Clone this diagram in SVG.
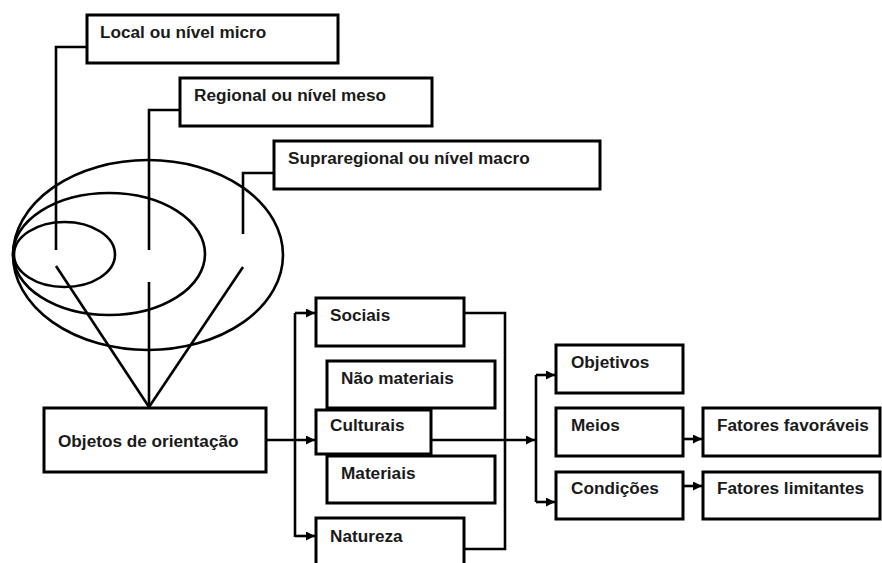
<svg xmlns="http://www.w3.org/2000/svg" width="882" height="563" viewBox="0 0 882 563">
<defs>
<marker id="arr" viewBox="0 0 10 10" refX="10" refY="5" markerWidth="9" markerHeight="9" markerUnits="userSpaceOnUse" orient="auto">
<path d="M0,0 L10,5 L0,10 Z" fill="#000"/>
</marker>
<style>
.box{fill:#fff;stroke:#000;stroke-width:3}
.ln{fill:none;stroke:#000;stroke-width:2.6}
.el{fill:none;stroke:#000;stroke-width:2.6}
.t{font-family:"Liberation Sans",Arial,sans-serif;font-weight:bold;font-size:17.2px;fill:#1a1a1a}
</style>
</defs>
<rect width="882" height="563" fill="#fff"/>
<g id="ellipses">
<ellipse class="el" cx="148" cy="255" rx="135" ry="95"/>
<ellipse class="el" cx="109" cy="254" rx="96" ry="61"/>
<ellipse class="el" cx="64.5" cy="254.5" rx="50.5" ry="32.5"/>
</g>
<g id="connectors">
<polyline class="ln" points="87,47 56,47 56,250"/>
<polyline class="ln" points="180,110 149,110 149,250"/>
<polyline class="ln" points="274,173 243,173 243,234"/>
<line class="ln" x1="56" y1="266" x2="149" y2="407"/>
<line class="ln" x1="149" y1="282" x2="149" y2="407"/>
<line class="ln" x1="243" y1="267" x2="149" y2="407"/>
<line class="ln" x1="266" y1="440" x2="315" y2="440" marker-end="url(#arr)"/>
<line class="ln" x1="295" y1="313" x2="295" y2="537"/>
<line class="ln" x1="295" y1="313" x2="315" y2="313" marker-end="url(#arr)"/>
<line class="ln" x1="295" y1="536" x2="315" y2="536" marker-end="url(#arr)"/>
<polyline class="ln" points="464,313 505,313 505,549 464,549"/>
<line class="ln" x1="431" y1="440" x2="535" y2="440" marker-end="url(#arr)"/>
<line class="ln" x1="536" y1="375" x2="536" y2="502"/>
<line class="ln" x1="536" y1="375" x2="555" y2="375" marker-end="url(#arr)"/>
<line class="ln" x1="536" y1="502" x2="555" y2="502" marker-end="url(#arr)"/>
<line class="ln" x1="683" y1="439" x2="702" y2="439" marker-end="url(#arr)"/>
<line class="ln" x1="683" y1="486" x2="702" y2="486" marker-end="url(#arr)"/>
</g>
<g id="local"><rect class="box" x="87" y="15" width="251" height="48"/><text class="t" x="100" y="38">Local ou nível micro</text></g>
<g id="regional"><rect class="box" x="180" y="78" width="252" height="48"/><text class="t" x="194" y="101">Regional ou nível meso</text></g>
<g id="supraregional"><rect class="box" x="274" y="141" width="326" height="48"/><text class="t" x="288" y="164">Supraregional ou nível macro</text></g>
<g id="objetos"><rect class="box" x="44" y="408" width="222" height="64"/><text class="t" x="58" y="447">Objetos de orientação</text></g>
<g id="sociais"><rect class="box" x="316" y="298" width="148" height="48"/><text class="t" x="330" y="321">Sociais</text></g>
<g id="naomateriais"><rect class="box" x="327" y="361" width="168" height="47"/><text class="t" x="341" y="384">Não materiais</text></g>
<g id="materiais"><rect class="box" x="327" y="456" width="168" height="47"/><text class="t" x="341" y="479">Materiais</text></g>
<g id="culturais"><rect class="box" x="316" y="410" width="115" height="44"/><text class="t" x="330" y="431">Culturais</text></g>
<g id="natureza"><rect class="box" x="316" y="518" width="148" height="52"/><text class="t" x="330" y="542">Natureza</text></g>
<g id="objetivos"><rect class="box" x="556" y="345" width="127" height="48"/><text class="t" x="571" y="368">Objetivos</text></g>
<g id="meios"><rect class="box" x="556" y="408" width="127" height="48"/><text class="t" x="571" y="431">Meios</text></g>
<g id="condicoes"><rect class="box" x="556" y="472" width="127" height="47"/><text class="t" x="571" y="494">Condições</text></g>
<g id="favoraveis"><rect class="box" x="703" y="408" width="177" height="48"/><text class="t" x="717" y="431">Fatores favoráveis</text></g>
<g id="limitantes"><rect class="box" x="703" y="472" width="177" height="47"/><text class="t" x="717" y="494">Fatores limitantes</text></g>
</svg>
